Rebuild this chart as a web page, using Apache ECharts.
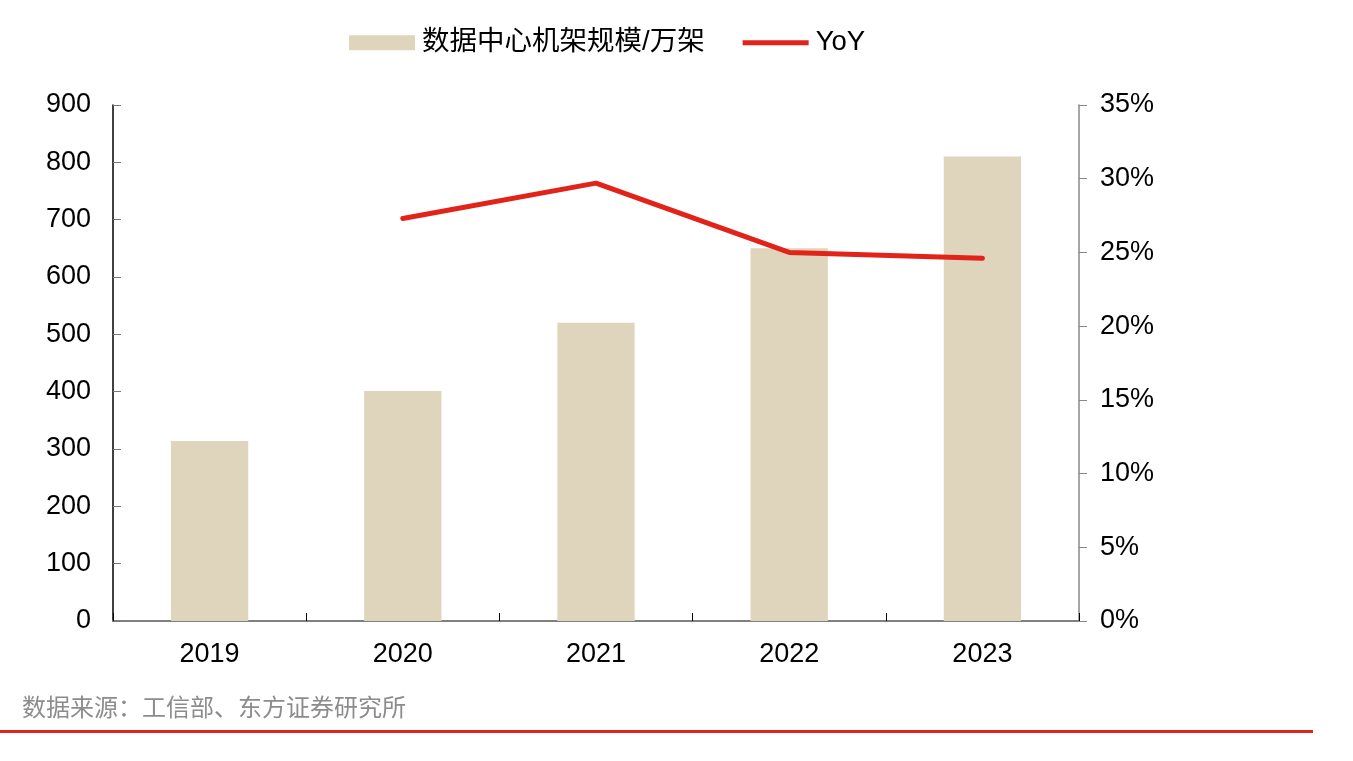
<!DOCTYPE html>
<html>
<head>
<meta charset="utf-8">
<script src="https://cdn.jsdelivr.net/npm/echarts@6/dist/echarts.min.js"></script>
<style>
html,body{margin:0;padding:0;background:#fff;}
#c{width:1353px;height:761px;}
</style>
</head>
<body>
<div id="c"></div>
<script>
const categories = ['2019','2020','2021','2022','2023'];
const rackScale = [314, 401, 520, 650, 810];
const yoy = [null, 27.3, 29.7, 25.0, 24.6];
const leftTicks = [0,100,200,300,400,500,600,700,800,900];
const rightTicks = [0,5,10,15,20,25,30,35];

const font = '"Liberation Sans", Arial, "Noto Sans CJK SC", sans-serif';
const chart = echarts.init(document.getElementById('c'));
chart.setOption({
  animation: false,
  textStyle: {fontFamily: font},
  legend: {
    top: 24, left: 344,
    itemGap: 38,
    itemWidth: 66, itemHeight: 15,
    textStyle: {fontSize: 27.5, color: '#000', fontFamily: font, padding: [0, 0, 0, 2]},
    data: [
      {name: '数据中心机架规模/万架', icon: 'rect'},
      {name: 'YoY', icon: 'path://M0,0 L66,0 L66,5 L0,5 Z'}
    ]
  },
  grid: {left: 113, right: 274, top: 105, bottom: 140},
  xAxis: {
    type: 'category',
    data: categories,
    axisLine: {lineStyle: {color: '#808080', width: 2}},
    axisTick: {show: true, inside: true, length: 8, lineStyle: {color: '#000'}},
    axisLabel: {fontSize: 27, color: '#000', margin: 20, fontFamily: font}
  },
  yAxis: [
    {
      type: 'value', min: 0, max: 900, interval: 100,
      axisLine: {show: true, lineStyle: {color: '#000', width: 1.5}},
      axisTick: {show: true, inside: true, length: 8, lineStyle: {color: '#777'}},
      splitLine: {show: false},
      axisLabel: {fontSize: 27, color: '#000', margin: 22, fontFamily: font, padding: [3, 0, 0, 0]}
    },
    {
      type: 'value', min: 0, max: 35, interval: 5,
      axisLine: {show: true, lineStyle: {color: '#888', width: 1.5}},
      axisTick: {show: true, inside: false, length: 8, lineStyle: {color: '#888'}},
      splitLine: {show: false},
      axisLabel: {fontSize: 27, color: '#000', margin: 21, formatter: '{value}%', fontFamily: font, padding: [3, 0, 0, 0]}
    }
  ],
  series: [
    {
      name: '数据中心机架规模/万架',
      type: 'bar',
      data: rackScale,
      barWidth: '40%',
      itemStyle: {color: '#dfd5bd'}
    },
    {
      name: 'YoY',
      type: 'line',
      yAxisIndex: 1,
      data: yoy,
      symbol: 'none',
      lineStyle: {color: '#e2231a', width: 5, cap: 'round'},
      itemStyle: {color: '#e2231a'}
    }
  ],
  graphic: [
    {
      type: 'text', left: 22, top: 695,
      style: {text: '数据来源：工信部、东方证券研究所', fill: '#8c8c8c', fontSize: 24, fontFamily: '"Noto Sans CJK SC", sans-serif'}
    },
    {
      type: 'rect', shape: {x: 0, y: 730, width: 1313, height: 3},
      style: {fill: '#e2231a'}
    }
  ]
});
</script>
</body>
</html>
